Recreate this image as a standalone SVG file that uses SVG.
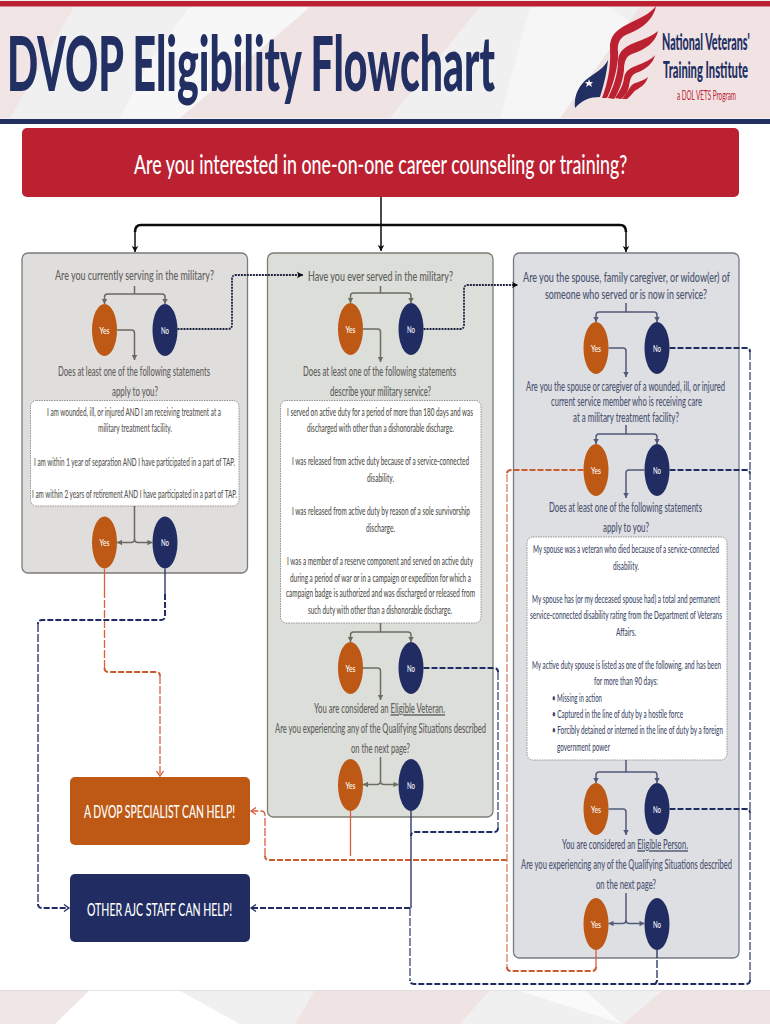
<svg xmlns="http://www.w3.org/2000/svg" width="770" height="1024" viewBox="0 0 770 1024">
<style>
text{font-family:"Lato","Liberation Sans",sans-serif}
.q{font-size:14px;font-weight:500}
.b{font-size:10.5px;font-weight:500}
.c1{fill:#62615e}.c2{fill:#5e605a}.c3{fill:#4c5370}
.bb1{fill:#55544f}.bb2{fill:#4f504a}.bb3{fill:#414967}
.o{font-size:10px;fill:#fff;font-weight:500}
.panel{stroke-width:1.3}
.wbox{fill:#fff;stroke:#8a8a88;stroke-width:.9;stroke-dasharray:1.5 1}
.yes{fill:#bd5915}.no{fill:#212d62}
.g1,.g2,.g3{fill:none;stroke-width:1.5}
.g1{stroke:#69695f}.g2{stroke:#6b6e60}.g3{stroke:#525a7a}
.blk{fill:none;stroke:#0c0c0c;stroke-width:1.5}
.blk2{fill:none;stroke:#0c0c0c;stroke-width:2.6}
.dot{fill:none;stroke:#1b2340;stroke-width:1.8;stroke-dasharray:2 1}
.n{fill:none;stroke:#212d62;stroke-width:2;stroke-dasharray:6 2}
.nv{fill:none;stroke:#4e587e;stroke-width:1.4;stroke-dasharray:8 2}
.ns{fill:none;stroke:#212d62;stroke-width:1.3}
.r{fill:none;stroke:#cb5a2c;stroke-width:2;stroke-dasharray:6 2}
.rv{fill:none;stroke:#dc8a70;stroke-width:1.4;stroke-dasharray:8 2}
.rs{fill:none;stroke:#d9603f;stroke-width:1.3}
</style>
<defs>
<marker id="aK" markerUnits="userSpaceOnUse" markerWidth="9" markerHeight="9" refX="7" refY="4.5" orient="auto"><path d="M1 1.2L7 4.5L1 7.8L2.5 4.5Z" fill="#0c0c0c"/></marker>
<marker id="a1" markerUnits="userSpaceOnUse" markerWidth="8" markerHeight="8" refX="6" refY="4" orient="auto"><path d="M1 1.3L6 4L1 6.7Z" fill="#69695f"/></marker>
<marker id="a2" markerUnits="userSpaceOnUse" markerWidth="8" markerHeight="8" refX="6" refY="4" orient="auto"><path d="M1 1.3L6 4L1 6.7Z" fill="#6b6e60"/></marker>
<marker id="a3" markerUnits="userSpaceOnUse" markerWidth="8" markerHeight="8" refX="6" refY="4" orient="auto"><path d="M1 1.3L6 4L1 6.7Z" fill="#525a7a"/></marker>
<marker id="aN" markerUnits="userSpaceOnUse" markerWidth="9" markerHeight="9" refX="7" refY="4.5" orient="auto"><path d="M2 1L7 4.5L2 8" fill="none" stroke="#212d62" stroke-width="1.3"/></marker>
<marker id="aR" markerUnits="userSpaceOnUse" markerWidth="9" markerHeight="9" refX="7" refY="4.5" orient="auto"><path d="M2 1L7 4.5L2 8" fill="none" stroke="#d9603f" stroke-width="1.3"/></marker>
</defs>
<rect width="770" height="1024" fill="#fff"/>
<g id="header">
<rect y="0" width="770" height="122" fill="#f0f0f0"/>
<path d="M0 7H74L10 118H0Z" fill="#f1e4e4"/>
<path d="M190 7H310L250 70L180 118H120L150 60Z" fill="#f7f7f7"/>
<path d="M310 7H480L390 118H180Z" fill="#f0e3e3"/>
<path d="M530 7H610L640 30L610 90L575 118H500Z" fill="#f6f6f6"/>
<path d="M640 7H770V118H560Z" fill="#f1e3e3"/>
<rect y="1" width="770" height="5.5" fill="#bc2132"/>
<rect y="119" width="770" height="5" fill="#222f63"/>
<text transform="translate(7 91) scale(.5 1)" font-size="76" font-weight="900" fill="#222f63" textLength="976" lengthAdjust="spacingAndGlyphs">DVOP Eligibility Flowchart</text>
</g>
<g id="logo">
<path d="M656 6C654 18 644 28 628 34C620 37 617 43 618 52C619 62 614 84 607 98L602 98C608 82 611 66 610 50C609 36 616 30 628 24C640 18 650 14 656 6Z" fill="#bc2132"/>
<path d="M658 31C656 42 645 50 632 54C626 56 624 62 624 70C623 80 619 92 614 99L608 98C613 88 618 74 618 62C618 52 624 47 634 43C644 39 652 36 658 31Z" fill="#bc2132"/>
<path d="M655 55C653 64 645 70 636 73C631 75 630 80 629 86C628 92 625 96 621 99L615 98C619 92 623 86 624 78C625 71 630 68 638 65C645 62 651 60 655 55Z" fill="#bc2132"/>
<path d="M648 77C646 84 640 88 636 90C633 92 631 96 627 99L622 99C626 95 628 90 631 86C634 82 642 82 648 77Z" fill="#bc2132"/>
<path d="M608 60C607 72 604 84 600 97C590 97 582 100 575 108C574 98 577 90 582 84C590 74 602 72 608 60Z" fill="#222f63"/>
<path d="M589 79L590 82L593 82L591 84L592 87L589 85L586 87L587 84L585 82L588 82Z" fill="#f4f4f4"/>
<text transform="translate(662 50) scale(.45 1)" font-size="23" font-weight="900" fill="#222f63" textLength="195" lengthAdjust="spacingAndGlyphs">National Veterans'</text>
<text transform="translate(663 78) scale(.45 1)" font-size="23" font-weight="900" fill="#222f63" textLength="189" lengthAdjust="spacingAndGlyphs">Training Institute</text>
<text transform="translate(677 100) scale(.5 1)" font-size="14" fill="#bc2132" textLength="118" lengthAdjust="spacingAndGlyphs">a DOL VETS Program</text>
</g>
<g id="footer">
<rect y="990" width="770" height="34" fill="#f0f0f0"/>
<path d="M0 990H90L55 1024H0Z" fill="#f1e6e6"/>
<path d="M90 990H178L240 1024H55Z" fill="#fff"/>
<path d="M315 990H490L460 1024H295Z" fill="#f0e3e3"/>
<path d="M517 990H585L622 1024Z" fill="#fafafa"/>
<path d="M663 990H770V1024H623Z" fill="#f0e3e3"/>
<rect y="990" width="770" height=".8" fill="#dcdcdc"/>
</g>
<g id="start">
<rect x="22" y="128" width="717" height="69" rx="5" fill="#bc2132"/>
<text transform="translate(134 174) scale(.6 1)" font-size="27" fill="#fff" font-weight="500" textLength="822" lengthAdjust="spacingAndGlyphs">Are you interested in one-on-one career counseling or training?</text>
</g>
<g id="panel-serving">
<rect class="panel" x="22" y="253" width="225.500" height="320" rx="6" fill="#e0dedc" stroke="#7c7b78"/>
<text class="q c1" transform="translate(55 280) scale(.5 1)" textLength="318" lengthAdjust="spacingAndGlyphs">Are you currently serving in the military?</text>
<text class="q c1" transform="translate(58 376) scale(.5 1)" textLength="304" lengthAdjust="spacingAndGlyphs">Does at least one of the following statements</text>
<text class="q c1" transform="translate(112 396) scale(.5 1)" textLength="92" lengthAdjust="spacingAndGlyphs">apply to you?</text>
</g>
<g id="statements-serving">
<rect class="wbox" x="30.500" y="400.500" width="208.500" height="105.500" rx="6"/>
<text class="b bb1" transform="translate(47 416) scale(.5 1)" textLength="348" lengthAdjust="spacingAndGlyphs">I am wounded, ill, or injured AND I am receiving treatment at a</text>
<text class="b bb1" transform="translate(98 432) scale(.5 1)" textLength="148" lengthAdjust="spacingAndGlyphs">military treatment facility.</text>
<text class="b bb1" transform="translate(34 466) scale(.5 1)" textLength="402" lengthAdjust="spacingAndGlyphs">I am within 1 year of separation AND I have participated in a part of TAP.</text>
<text class="b bb1" transform="translate(32 498) scale(.5 1)" textLength="410" lengthAdjust="spacingAndGlyphs">I am within 2 years of retirement AND I have participated in a part of TAP.</text>
</g>
<g id="panel-served">
<rect class="panel" x="267.500" y="253" width="225.500" height="564" rx="6" fill="#dcdeda" stroke="#7c7e74"/>
<text class="q c2" transform="translate(308 281) scale(.5 1)" textLength="290" lengthAdjust="spacingAndGlyphs">Have you ever served in the military?</text>
<text class="q c2" transform="translate(303 376) scale(.5 1)" textLength="306" lengthAdjust="spacingAndGlyphs">Does at least one of the following statements</text>
<text class="q c2" transform="translate(330 396) scale(.5 1)" textLength="202" lengthAdjust="spacingAndGlyphs">describe your military service?</text>
<text class="q c2" transform="translate(314 713) scale(.5 1)" textLength="262" lengthAdjust="spacingAndGlyphs">You are considered an <tspan text-decoration="underline">Eligible Veteran.</tspan></text>
<text class="q c2" transform="translate(275 733) scale(.5 1)" textLength="422" lengthAdjust="spacingAndGlyphs">Are you experiencing any of the Qualifying Situations described</text>
<text class="q c2" transform="translate(351 753) scale(.5 1)" textLength="118" lengthAdjust="spacingAndGlyphs">on the next page?</text>
</g>
<g id="statements-served">
<rect class="wbox" x="280.500" y="400.500" width="200.500" height="222.500" rx="6"/>
<text class="b bb2" transform="translate(287 416) scale(.5 1)" textLength="372" lengthAdjust="spacingAndGlyphs">I served on active duty for a period of more than 180 days and was</text>
<text class="b bb2" transform="translate(307 432) scale(.5 1)" textLength="294" lengthAdjust="spacingAndGlyphs">discharged with other than a dishonorable discharge.</text>
<text class="b bb2" transform="translate(292 465) scale(.5 1)" textLength="354" lengthAdjust="spacingAndGlyphs">I was released from active duty because of a service-connected</text>
<text class="b bb2" transform="translate(367 482) scale(.5 1)" textLength="54" lengthAdjust="spacingAndGlyphs">disability.</text>
<text class="b bb2" transform="translate(292 515) scale(.5 1)" textLength="356" lengthAdjust="spacingAndGlyphs">I was released from active duty by reason of a sole survivorship</text>
<text class="b bb2" transform="translate(366 532) scale(.5 1)" textLength="58" lengthAdjust="spacingAndGlyphs">discharge.</text>
<text class="b bb2" transform="translate(287 565) scale(.5 1)" textLength="372" lengthAdjust="spacingAndGlyphs">I was a member of a reserve component and served on active duty</text>
<text class="b bb2" transform="translate(290 582) scale(.5 1)" textLength="362" lengthAdjust="spacingAndGlyphs">during a period of war or in a campaign or expedition for which a</text>
<text class="b bb2" transform="translate(286 597) scale(.5 1)" textLength="378" lengthAdjust="spacingAndGlyphs">campaign badge is authorized and was discharged or released from</text>
<text class="b bb2" transform="translate(308 614) scale(.5 1)" textLength="288" lengthAdjust="spacingAndGlyphs">such duty with other than a dishonorable discharge.</text>
</g>
<g id="panel-spouse">
<rect class="panel" x="513.500" y="253" width="225.500" height="705" rx="6" fill="#dddfe3" stroke="#757a88"/>
<text class="q c3" transform="translate(523 282) scale(.5 1)" textLength="414" lengthAdjust="spacingAndGlyphs">Are you the spouse, family caregiver, or widow(er) of</text>
<text class="q c3" transform="translate(545 299) scale(.5 1)" textLength="324" lengthAdjust="spacingAndGlyphs">someone who served or is now in service?</text>
<text class="q c3" transform="translate(526 391) scale(.5 1)" textLength="398" lengthAdjust="spacingAndGlyphs">Are you the spouse or caregiver of a wounded, ill, or injured</text>
<text class="q c3" transform="translate(551 406) scale(.5 1)" textLength="302" lengthAdjust="spacingAndGlyphs">current service member who is receiving care</text>
<text class="q c3" transform="translate(573 422) scale(.5 1)" textLength="212" lengthAdjust="spacingAndGlyphs">at a military treatment facility?</text>
<text class="q c3" transform="translate(549 512) scale(.5 1)" textLength="306" lengthAdjust="spacingAndGlyphs">Does at least one of the following statements</text>
<text class="q c3" transform="translate(603 532) scale(.5 1)" textLength="92" lengthAdjust="spacingAndGlyphs">apply to you?</text>
<text class="q c3" transform="translate(562 849) scale(.5 1)" textLength="252" lengthAdjust="spacingAndGlyphs">You are considered an <tspan text-decoration="underline">Eligible Person.</tspan></text>
<text class="q c3" transform="translate(521 869) scale(.5 1)" textLength="422" lengthAdjust="spacingAndGlyphs">Are you experiencing any of the Qualifying Situations described</text>
<text class="q c3" transform="translate(596 889) scale(.5 1)" textLength="120" lengthAdjust="spacingAndGlyphs">on the next page?</text>
</g>
<g id="statements-spouse">
<rect class="wbox" x="527" y="537" width="200" height="223" rx="6"/>
<text class="b bb3" transform="translate(533 553) scale(.5 1)" textLength="372" lengthAdjust="spacingAndGlyphs">My spouse was a veteran who died because of a service-connected</text>
<text class="b bb3" transform="translate(613 570) scale(.5 1)" textLength="52" lengthAdjust="spacingAndGlyphs">disability.</text>
<text class="b bb3" transform="translate(532 603) scale(.5 1)" textLength="376" lengthAdjust="spacingAndGlyphs">My spouse has (or my deceased spouse had) a total and permanent</text>
<text class="b bb3" transform="translate(530 619) scale(.5 1)" textLength="384" lengthAdjust="spacingAndGlyphs">service-connected disability rating from the Department of Veterans</text>
<text class="b bb3" transform="translate(616 636) scale(.5 1)" textLength="40" lengthAdjust="spacingAndGlyphs">Affairs.</text>
<text class="b bb3" transform="translate(532 669) scale(.5 1)" textLength="378" lengthAdjust="spacingAndGlyphs">My active duty spouse is listed as one of the following, and has been</text>
<text class="b bb3" transform="translate(594 685) scale(.5 1)" textLength="128" lengthAdjust="spacingAndGlyphs">for more than 90 days:</text>
<text class="b bb3" transform="translate(552 702) scale(.5 1)" textLength="100" lengthAdjust="spacingAndGlyphs">• Missing in action</text>
<text class="b bb3" transform="translate(552 718) scale(.5 1)" textLength="262" lengthAdjust="spacingAndGlyphs">• Captured in the line of duty by a hostile force</text>
<text class="b bb3" transform="translate(552 734) scale(.5 1)" textLength="342" lengthAdjust="spacingAndGlyphs">• Forcibly detained or interned in the line of duty by a foreign</text>
<text class="b bb3" transform="translate(557 751) scale(.5 1)" textLength="106" lengthAdjust="spacingAndGlyphs">government power</text>
</g>
<g id="yes-1"><ellipse class="yes" cx="104.500" cy="330" rx="12.500" ry="26"/><text class="o" x="99.500" y="333.500" textLength="10" lengthAdjust="spacingAndGlyphs">Yes</text></g>
<g id="no-1"><ellipse class="no" cx="165" cy="330" rx="12.500" ry="26"/><text class="o" x="161" y="333.500" textLength="8" lengthAdjust="spacingAndGlyphs">No</text></g>
<g id="yes-2"><ellipse class="yes" cx="104.500" cy="542.500" rx="12.500" ry="26"/><text class="o" x="99.500" y="546" textLength="10" lengthAdjust="spacingAndGlyphs">Yes</text></g>
<g id="no-2"><ellipse class="no" cx="165" cy="542.500" rx="12.500" ry="26"/><text class="o" x="161" y="546" textLength="8" lengthAdjust="spacingAndGlyphs">No</text></g>
<g id="yes-3"><ellipse class="yes" cx="350.500" cy="329" rx="12.500" ry="26"/><text class="o" x="345.500" y="333" textLength="10" lengthAdjust="spacingAndGlyphs">Yes</text></g>
<g id="no-3"><ellipse class="no" cx="411" cy="329" rx="12.500" ry="26"/><text class="o" x="407" y="333" textLength="8" lengthAdjust="spacingAndGlyphs">No</text></g>
<g id="yes-4"><ellipse class="yes" cx="350.500" cy="668" rx="12.500" ry="26"/><text class="o" x="345.500" y="672" textLength="10" lengthAdjust="spacingAndGlyphs">Yes</text></g>
<g id="no-4"><ellipse class="no" cx="411" cy="668" rx="12.500" ry="26"/><text class="o" x="407" y="672" textLength="8" lengthAdjust="spacingAndGlyphs">No</text></g>
<g id="yes-5"><ellipse class="yes" cx="350.500" cy="785" rx="12.500" ry="26"/><text class="o" x="345.500" y="789" textLength="10" lengthAdjust="spacingAndGlyphs">Yes</text></g>
<g id="no-5"><ellipse class="no" cx="411" cy="785" rx="12.500" ry="26"/><text class="o" x="407" y="789" textLength="8" lengthAdjust="spacingAndGlyphs">No</text></g>
<g id="yes-6"><ellipse class="yes" cx="596" cy="348" rx="12.500" ry="26"/><text class="o" x="591" y="352" textLength="10" lengthAdjust="spacingAndGlyphs">Yes</text></g>
<g id="no-6"><ellipse class="no" cx="657" cy="348" rx="12.500" ry="26"/><text class="o" x="653" y="352" textLength="8" lengthAdjust="spacingAndGlyphs">No</text></g>
<g id="yes-7"><ellipse class="yes" cx="596" cy="470" rx="12.500" ry="26"/><text class="o" x="591" y="474" textLength="10" lengthAdjust="spacingAndGlyphs">Yes</text></g>
<g id="no-7"><ellipse class="no" cx="657" cy="470" rx="12.500" ry="26"/><text class="o" x="653" y="474" textLength="8" lengthAdjust="spacingAndGlyphs">No</text></g>
<g id="yes-8"><ellipse class="yes" cx="596" cy="809" rx="12.500" ry="26"/><text class="o" x="591" y="813" textLength="10" lengthAdjust="spacingAndGlyphs">Yes</text></g>
<g id="no-8"><ellipse class="no" cx="657" cy="809" rx="12.500" ry="26"/><text class="o" x="653" y="813" textLength="8" lengthAdjust="spacingAndGlyphs">No</text></g>
<g id="yes-9"><ellipse class="yes" cx="596" cy="924" rx="12.500" ry="26"/><text class="o" x="591" y="928" textLength="10" lengthAdjust="spacingAndGlyphs">Yes</text></g>
<g id="no-9"><ellipse class="no" cx="657" cy="924" rx="12.500" ry="26"/><text class="o" x="653" y="928" textLength="8" lengthAdjust="spacingAndGlyphs">No</text></g>
<g id="dvop-specialist">
<rect x="70" y="777" width="180" height="68" rx="5" fill="#bd5915"/>
<text transform="translate(84 818) scale(.5 1)" font-size="18" font-weight="500" fill="#fff" textLength="302" lengthAdjust="spacingAndGlyphs">A DVOP SPECIALIST CAN HELP!</text>
</g>
<g id="ajc-staff">
<rect x="70" y="874" width="180" height="68" rx="5" fill="#212d62"/>
<text transform="translate(87 916) scale(.5 1)" font-size="18" font-weight="500" fill="#fff" textLength="290" lengthAdjust="spacingAndGlyphs">OTHER AJC STAFF CAN HELP!</text>
</g>
<g id="connectors">
<path class="blk" d="M381 197V251" marker-end="url(#aK)"/>
<path class="blk2" d="M135 232Q135 225 141 225H620Q626 225 626 232"/>
<path class="blk" d="M135 232V252" marker-end="url(#aK)"/>
<path class="blk" d="M626 232V252" marker-end="url(#aK)"/>

<path class="g1" d="M134.500 286V294M134.500 294H107.500Q104.500 294 104.500 297V304" marker-end="url(#a1)"/>
<path class="g1" d="M134.500 294H162Q165 294 165 297V304" marker-end="url(#a1)"/>
<path class="g1" d="M117 330H131.500Q134.500 330 134.500 333V360" marker-end="url(#a1)"/>
<path class="g1" d="M134.500 506V539Q134.500 542.500 131 542.500H117" marker-end="url(#a1)"/>
<path class="g1" d="M134.500 539Q134.500 542.500 138 542.500H152.500" marker-end="url(#a1)"/>

<path class="g2" d="M380.500 286V293H353.500Q350.500 293 350.500 296V303" marker-end="url(#a2)"/>
<path class="g2" d="M380.500 293H408Q411 293 411 296V303" marker-end="url(#a2)"/>
<path class="g2" d="M363 329H377.500Q380.500 329 380.500 332V362" marker-end="url(#a2)"/>
<path class="g2" d="M380.500 623V632H353.500Q350.500 632 350.500 635V642" marker-end="url(#a2)"/>
<path class="g2" d="M380.500 632H408Q411 632 411 635V642" marker-end="url(#a2)"/>
<path class="g2" d="M363 668H377.500Q380.500 668 380.500 671V700" marker-end="url(#a2)"/>
<path class="g2" d="M380.500 757V781Q380.500 784.500 377 784.500H363" marker-end="url(#a2)"/>
<path class="g2" d="M380.500 781Q380.500 784.500 384 784.500H398.500" marker-end="url(#a2)"/>

<path class="g3" d="M626 303V312H599Q596 312 596 315V322" marker-end="url(#a3)"/>
<path class="g3" d="M626 312H654Q657 312 657 315V322" marker-end="url(#a3)"/>
<path class="g3" d="M608.500 348H623Q626 348 626 351V377" marker-end="url(#a3)"/>
<path class="g3" d="M626 425V434H599Q596 434 596 437V444" marker-end="url(#a3)"/>
<path class="g3" d="M626 434H654Q657 434 657 437V444" marker-end="url(#a3)"/>
<path class="g3" d="M644.500 470H629Q626 470 626 473V498" marker-end="url(#a3)"/>
<path class="g3" d="M626 760V772H599Q596 772 596 775V783" marker-end="url(#a3)"/>
<path class="g3" d="M626 772H654Q657 772 657 775V783" marker-end="url(#a3)"/>
<path class="g3" d="M608.500 809H623Q626 809 626 812V835" marker-end="url(#a3)"/>
<path class="g3" d="M626 893V920Q626 923.500 622.500 923.500H608.500" marker-end="url(#a3)"/>
<path class="g3" d="M626 920Q626 923.500 629.500 923.500H644.500" marker-end="url(#a3)"/>

<path class="dot" d="M177.500 329H228Q232 329 232 325V279Q232 275 236 275H303" marker-end="url(#aK)"/>
<path class="dot" d="M423.500 329H460Q464 329 464 325V289Q464 285 468 285H518" marker-end="url(#aK)"/>

<path class="rs" d="M104.500 568.500V590"/>
<path class="rs" stroke-dasharray="8 2" d="M104.500 590V668"/>
<path class="r" d="M104.500 668Q104.500 672 108.500 672H156Q160 672 160 676"/>
<path class="rs" stroke-dasharray="8 2" d="M160 676V776" marker-end="url(#aR)"/>
<path class="rs" d="M350.500 811V856"/>
<path class="r" d="M507 860H269Q265 860 265 856"/>
<path class="rs" stroke-dasharray="8 2" d="M265 856V815Q265 811 261 811H251" marker-end="url(#aR)"/>
<path class="r" d="M583.500 470H511Q507 470 507 474"/>
<path class="rv" d="M507 474V967"/>
<path class="r" d="M507 967Q507 971 511 971H592Q596 971 596 967"/>
<path class="rs" d="M596 967V950"/>

<path class="n" d="M165 594V616Q165 620 161 620H42Q38 620 38 624"/>
<path class="ns" d="M165 568.500V594"/>
<path class="ns" stroke-dasharray="8 2" d="M38 624V904"/>
<path class="n" d="M38 904Q38 908 42 908H69" marker-end="url(#aN)"/>
<path class="n" d="M669.500 348H746Q750 348 750 352"/>
<path class="n" d="M669.500 470H746Q750 470 750 474"/>
<path class="n" d="M669.500 809H746Q750 809 750 813"/>
<path class="nv" d="M750 352V980"/>
<path class="n" d="M750 980Q750 984 746 984H414Q410 984 410 980"/>
<path class="nv" d="M410 908V980"/>
<path class="ns" d="M411 811V908"/>
<path class="n" d="M410 908H251" marker-end="url(#aN)"/>
<path class="ns" stroke-dasharray="8 2" d="M657 950V980"/>
<path class="n" d="M657 980Q657 984 653 984"/>
<path class="n" d="M423.500 668H494Q498 668 498 672"/>
<path class="nv" d="M498 672V828"/>
<path class="n" d="M498 828Q498 832 494 832H415Q411 832 411 836"/>
</g>
</svg>
